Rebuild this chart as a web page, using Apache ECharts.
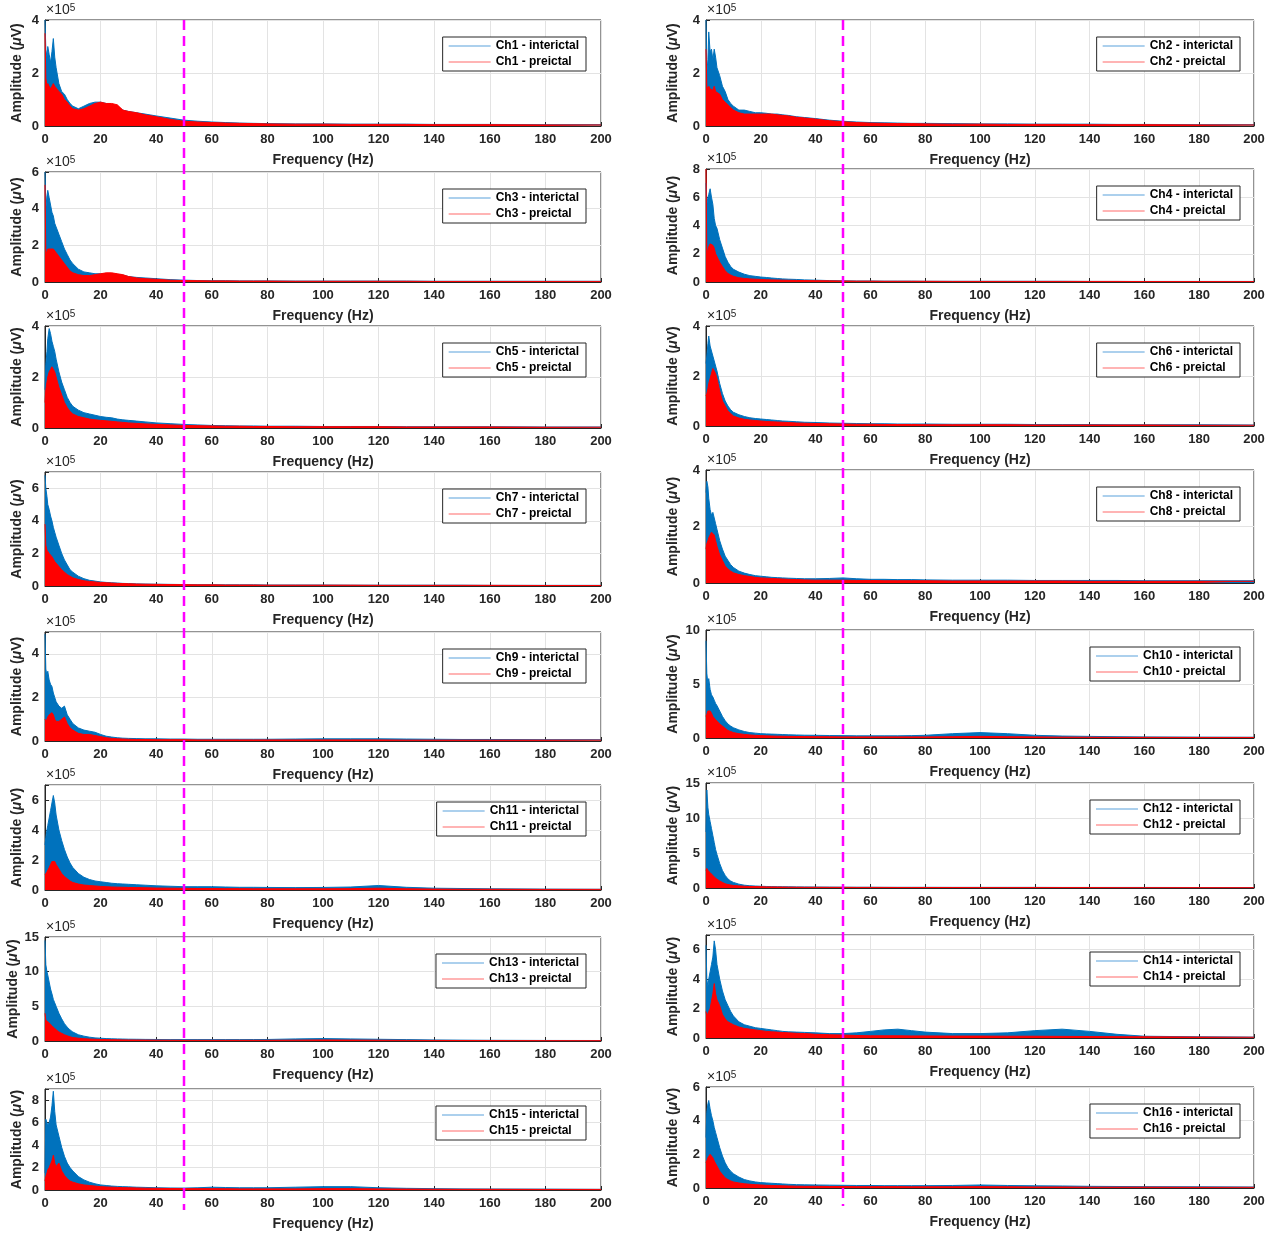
<!DOCTYPE html>
<html>
<head>
<meta charset="utf-8">
<script src="https://cdn.jsdelivr.net/npm/echarts@6/dist/echarts.min.js"></script>
<style>
html,body{margin:0;padding:0;background:#fff;}
#chart{width:1280px;height:1234px;}
</style>
</head>
<body>
<div id="chart"></div>
<script>
// Frequency sample points (Hz)
const freq = [0,0.3,0.7,1,1.5,2,2.5,3,3.5,4, 5,6,7,8,9,10, 12,14,16,18,20,22,24,26,28,30, 33,36,40,45,50, 55,60,65,70,75,80, 90,100,110,120,130,140,150,160, 180,200];
const xTicks = [0,20,40,60,80,100,120,140,160,180,200];

// Amplitudes in units of 1e5 uV
const ch1I = [4.0,2.9,2.6,3.0,2.7,2.4,2.8,3.3,2.6,2.2, 1.6,1.3,1.2,1.0,0.85,0.75, 0.65,0.75,0.85,0.9,0.9,0.85,0.8,0.75,0.6,0.55, 0.5,0.45,0.38,0.3,0.22, 0.18,0.15,0.13,0.11,0.1,0.09, 0.08,0.08,0.07,0.07,0.07,0.06,0.06,0.06, 0.05,0.05];
const ch1P = [3.5,1.8,1.5,1.6,1.5,1.4,1.5,1.6,1.5,1.5, 1.3,1.2,1.0,0.9,0.75,0.65, 0.6,0.65,0.75,0.85,0.9,0.85,0.85,0.8,0.6,0.55, 0.5,0.42,0.35,0.25,0.18, 0.15,0.13,0.11,0.1,0.09,0.08, 0.07,0.07,0.06,0.06,0.06,0.05,0.05,0.05, 0.04,0.04];
const ch2I = [4.0,2.0,2.5,3.55,2.8,2.9,2.5,2.9,2.6,2.2, 1.9,1.5,1.3,1.0,0.85,0.75, 0.6,0.6,0.55,0.5,0.5,0.48,0.45,0.45,0.42,0.4, 0.35,0.32,0.28,0.22,0.18, 0.15,0.13,0.12,0.11,0.1,0.1, 0.09,0.08,0.08,0.07,0.07,0.07,0.06,0.06, 0.05,0.05];
const ch2P = [2.9,1.5,1.4,1.5,1.4,1.4,1.35,1.5,1.3,1.3, 1.2,1.0,0.9,0.8,0.7,0.6, 0.5,0.45,0.45,0.45,0.45,0.45,0.45,0.42,0.4,0.38, 0.33,0.3,0.26,0.2,0.16, 0.13,0.11,0.1,0.09,0.09,0.08, 0.07,0.07,0.06,0.06,0.06,0.05,0.05,0.05, 0.04,0.04];
const ch3I = [6.0,4.0,4.7,5.0,4.6,4.2,3.8,3.6,3.2,3.0, 2.6,2.2,1.8,1.5,1.2,1.0, 0.7,0.55,0.5,0.45,0.45,0.45,0.45,0.42,0.38,0.3, 0.25,0.22,0.18,0.13,0.1, 0.08,0.07,0.07,0.06,0.06,0.06, 0.05,0.05,0.05,0.05,0.05,0.04,0.04,0.04, 0.04,0.04];
const ch3P = [5.3,1.5,1.6,1.8,1.9,1.8,1.7,1.8,1.7,1.6, 1.4,1.2,1.0,0.8,0.6,0.5, 0.4,0.35,0.35,0.4,0.45,0.5,0.5,0.45,0.4,0.3, 0.22,0.18,0.15,0.1,0.08, 0.07,0.06,0.06,0.05,0.05,0.05, 0.04,0.04,0.04,0.04,0.04,0.03,0.03,0.03, 0.03,0.03];
const ch4I = [7.0,5.5,6.0,6.2,6.6,6.0,5.5,4.5,4.0,3.8, 3.0,2.4,1.8,1.4,1.1,0.9, 0.7,0.55,0.45,0.4,0.35,0.32,0.28,0.25,0.22,0.2, 0.18,0.15,0.13,0.1,0.08, 0.07,0.07,0.06,0.06,0.06,0.05, 0.05,0.05,0.05,0.05,0.05,0.04,0.04,0.04, 0.04,0.04];
const ch4P = [8.0,2.0,2.1,2.5,2.7,2.8,2.6,2.4,2.0,1.8, 1.4,1.1,0.8,0.6,0.5,0.4, 0.3,0.25,0.22,0.2,0.18,0.16,0.15,0.14,0.13,0.12, 0.11,0.1,0.09,0.08,0.07, 0.06,0.06,0.05,0.05,0.05,0.05, 0.04,0.04,0.04,0.04,0.04,0.04,0.04,0.03, 0.03,0.03];
const ch5I = [1.5,2.5,3.0,3.5,3.9,3.7,3.4,3.2,3.0,2.7, 2.2,1.8,1.5,1.2,1.0,0.85, 0.7,0.6,0.55,0.5,0.45,0.42,0.4,0.35,0.32,0.3, 0.27,0.24,0.2,0.17,0.14, 0.12,0.1,0.09,0.08,0.08,0.07, 0.07,0.06,0.06,0.06,0.05,0.05,0.05,0.05, 0.04,0.04];
const ch5P = [1.0,1.5,1.8,2.0,2.2,2.3,2.4,2.4,2.2,2.0, 1.6,1.3,1.0,0.8,0.65,0.55, 0.45,0.4,0.35,0.32,0.3,0.28,0.26,0.24,0.22,0.2, 0.18,0.16,0.14,0.12,0.1, 0.09,0.08,0.07,0.07,0.06,0.06, 0.05,0.05,0.05,0.05,0.04,0.04,0.04,0.04, 0.03,0.03];
const ch6I = [2.5,2.8,3.3,3.6,3.2,3.0,2.8,2.6,2.4,2.2, 1.7,1.3,1.0,0.8,0.65,0.55, 0.45,0.38,0.33,0.3,0.28,0.26,0.24,0.22,0.2,0.19, 0.17,0.15,0.14,0.12,0.11, 0.1,0.09,0.09,0.08,0.08,0.08, 0.07,0.07,0.07,0.06,0.06,0.06,0.05,0.05, 0.05,0.04];
const ch6P = [1.2,1.3,1.5,1.7,1.9,2.1,2.3,2.3,2.1,1.9, 1.4,1.0,0.8,0.6,0.5,0.4, 0.32,0.27,0.24,0.22,0.2,0.18,0.17,0.16,0.15,0.14, 0.12,0.11,0.1,0.09,0.08, 0.07,0.07,0.06,0.06,0.06,0.05, 0.05,0.05,0.05,0.04,0.04,0.04,0.04,0.04, 0.03,0.03];
const ch7I = [6.8,6.0,5.5,5.0,4.7,4.3,4.0,3.6,3.3,3.0, 2.5,2.0,1.6,1.3,1.0,0.85, 0.6,0.45,0.35,0.3,0.25,0.22,0.2,0.18,0.16,0.15, 0.13,0.12,0.11,0.1,0.09, 0.08,0.08,0.07,0.07,0.07,0.06, 0.06,0.06,0.05,0.05,0.05,0.05,0.05,0.04, 0.04,0.04];
const ch7P = [3.8,2.5,2.2,2.1,2.0,1.9,1.8,1.7,1.5,1.4, 1.2,1.0,0.85,0.7,0.6,0.5, 0.4,0.32,0.28,0.25,0.22,0.2,0.18,0.16,0.15,0.14, 0.12,0.11,0.1,0.09,0.08, 0.07,0.07,0.06,0.06,0.06,0.05, 0.05,0.05,0.05,0.04,0.04,0.04,0.04,0.04, 0.03,0.03];
const ch8I = [3.2,3.6,3.4,3.0,2.6,2.4,2.5,2.3,2.1,1.9, 1.5,1.2,0.95,0.8,0.65,0.55, 0.42,0.35,0.3,0.26,0.24,0.22,0.2,0.19,0.18,0.17, 0.16,0.15,0.15,0.16,0.18, 0.15,0.13,0.13,0.12,0.12,0.11, 0.1,0.1,0.1,0.09,0.09,0.09,0.09,0.08, 0.08,0.08];
const ch8P = [1.2,1.4,1.5,1.6,1.7,1.8,1.8,1.7,1.5,1.3, 1.0,0.8,0.6,0.5,0.42,0.36, 0.3,0.26,0.23,0.2,0.18,0.17,0.16,0.15,0.14,0.13, 0.12,0.11,0.1,0.1,0.1, 0.09,0.09,0.08,0.08,0.08,0.08, 0.07,0.07,0.07,0.07,0.07,0.06,0.06,0.06, 0.06,0.06];
const ch9I = [4.9,3.3,3.0,3.2,2.8,2.6,2.5,2.2,2.0,1.8, 1.6,1.5,1.6,1.2,1.0,0.8, 0.6,0.5,0.45,0.4,0.3,0.22,0.18,0.15,0.13,0.12, 0.11,0.1,0.1,0.09,0.09, 0.08,0.08,0.08,0.08,0.08,0.08, 0.09,0.1,0.1,0.1,0.09,0.08,0.07,0.07, 0.06,0.06];
const ch9P = [1.0,0.9,1.0,1.1,1.2,1.2,1.3,1.2,1.0,0.9, 0.9,1.0,1.1,0.8,0.6,0.5, 0.35,0.3,0.3,0.25,0.2,0.15,0.12,0.1,0.09,0.08, 0.07,0.07,0.06,0.06,0.06, 0.05,0.05,0.05,0.05,0.05,0.05, 0.05,0.05,0.05,0.05,0.04,0.04,0.04,0.04, 0.04,0.04];
const ch10I = [9.0,6.0,5.0,5.5,4.5,4.0,3.8,3.5,3.2,3.0, 2.5,2.0,1.6,1.3,1.1,0.95, 0.75,0.6,0.5,0.45,0.4,0.38,0.36,0.34,0.32,0.3, 0.28,0.26,0.25,0.23,0.22, 0.2,0.2,0.2,0.2,0.22,0.25, 0.4,0.5,0.4,0.25,0.18,0.15,0.12,0.1, 0.08,0.07];
const ch10P = [2.0,2.2,2.5,2.6,2.5,2.3,2.0,1.9,1.7,1.6, 1.3,1.1,0.9,0.7,0.6,0.5, 0.4,0.33,0.28,0.25,0.22,0.2,0.18,0.17,0.16,0.15, 0.14,0.13,0.12,0.11,0.1, 0.1,0.1,0.1,0.1,0.1,0.1, 0.12,0.15,0.12,0.1,0.08,0.07,0.06,0.06, 0.05,0.05];
const ch11I = [3.0,3.5,4.0,4.3,4.8,5.3,5.8,6.3,5.8,5.0, 4.0,3.3,2.7,2.2,1.8,1.5, 1.1,0.85,0.7,0.6,0.55,0.5,0.45,0.42,0.4,0.38, 0.35,0.32,0.28,0.25,0.22, 0.22,0.22,0.2,0.18,0.18,0.17, 0.16,0.17,0.2,0.3,0.18,0.12,0.1,0.08, 0.06,0.05];
const ch11P = [1.0,1.1,1.2,1.3,1.5,1.7,1.9,2.0,1.9,1.7, 1.4,1.1,0.9,0.75,0.6,0.5, 0.4,0.33,0.3,0.27,0.24,0.22,0.2,0.19,0.18,0.17, 0.16,0.15,0.13,0.12,0.11, 0.1,0.1,0.09,0.09,0.08,0.08, 0.08,0.08,0.09,0.12,0.08,0.06,0.05,0.05, 0.04,0.04];
const ch12I = [8.0,14.0,11.5,10.5,9.5,8.5,7.5,6.5,5.5,4.8, 3.5,2.5,1.8,1.3,1.0,0.8, 0.55,0.4,0.32,0.28,0.25,0.22,0.2,0.19,0.18,0.17, 0.16,0.15,0.14,0.13,0.12, 0.11,0.11,0.1,0.1,0.1,0.1, 0.09,0.09,0.09,0.09,0.08,0.08,0.08,0.08, 0.07,0.07];
const ch12P = [2.5,2.8,2.5,2.4,2.2,2.0,1.8,1.6,1.4,1.2, 1.0,0.8,0.6,0.5,0.42,0.36, 0.3,0.25,0.22,0.2,0.18,0.16,0.15,0.14,0.13,0.12, 0.11,0.1,0.1,0.09,0.09, 0.08,0.08,0.08,0.07,0.07,0.07, 0.07,0.06,0.06,0.06,0.06,0.06,0.05,0.05, 0.05,0.05];
const ch13I = [14.5,11.0,10.0,9.5,8.5,7.5,6.8,6.0,5.5,5.0, 4.0,3.2,2.5,2.0,1.6,1.3, 0.9,0.7,0.55,0.45,0.4,0.35,0.32,0.3,0.28,0.26, 0.25,0.23,0.22,0.2,0.2, 0.2,0.2,0.2,0.2,0.21,0.22, 0.3,0.35,0.3,0.25,0.2,0.15,0.12,0.1, 0.08,0.07];
const ch13P = [4.0,3.0,2.8,2.8,2.6,2.4,2.2,2.0,1.8,1.6, 1.3,1.1,0.9,0.75,0.6,0.5, 0.4,0.33,0.28,0.25,0.22,0.2,0.18,0.17,0.16,0.15, 0.14,0.13,0.12,0.11,0.1, 0.1,0.1,0.1,0.1,0.1,0.1, 0.12,0.15,0.13,0.11,0.09,0.08,0.07,0.06, 0.05,0.05];
const ch14I = [6.3,4.0,3.5,4.0,4.5,5.0,5.5,6.6,6.0,5.0, 4.0,3.2,2.6,2.2,1.8,1.5, 1.1,0.9,0.8,0.7,0.65,0.6,0.55,0.5,0.45,0.42, 0.4,0.38,0.35,0.3,0.3, 0.35,0.45,0.55,0.6,0.5,0.4, 0.3,0.3,0.35,0.5,0.6,0.45,0.25,0.12, 0.08,0.06];
const ch14P = [1.8,1.5,1.4,1.6,2.0,2.5,3.0,3.7,3.0,2.6, 2.2,1.6,1.3,1.1,1.0,0.9, 0.75,0.65,0.6,0.55,0.5,0.45,0.42,0.4,0.37,0.35, 0.32,0.3,0.25,0.22,0.2, 0.17,0.15,0.15,0.15,0.14,0.14, 0.13,0.13,0.12,0.12,0.11,0.1,0.09,0.08, 0.06,0.05];
const ch15I = [1.5,6.3,6.0,5.8,6.0,6.5,7.5,8.8,7.0,5.8, 4.8,3.8,3.0,2.4,2.0,1.7, 1.2,0.9,0.7,0.55,0.45,0.4,0.35,0.32,0.3,0.28, 0.25,0.23,0.2,0.18,0.17, 0.2,0.25,0.22,0.2,0.2,0.2, 0.25,0.3,0.3,0.2,0.15,0.12,0.1,0.09, 0.08,0.06];
const ch15P = [0.8,1.2,1.5,1.8,2.0,2.3,2.6,3.1,2.4,2.1, 2.4,1.7,1.3,1.0,0.8,0.7, 0.55,0.45,0.4,0.35,0.3,0.27,0.25,0.23,0.21,0.2, 0.18,0.16,0.15,0.13,0.12, 0.12,0.12,0.11,0.1,0.1,0.1, 0.1,0.12,0.12,0.1,0.08,0.07,0.06,0.06, 0.05,0.05];
const ch16I = [3.0,4.5,5.0,5.2,4.7,4.3,4.0,3.6,3.3,3.0, 2.4,1.9,1.5,1.2,1.0,0.85, 0.65,0.5,0.42,0.36,0.32,0.3,0.28,0.26,0.24,0.22, 0.2,0.19,0.18,0.17,0.16, 0.15,0.15,0.14,0.14,0.14,0.14, 0.15,0.18,0.15,0.13,0.12,0.1,0.09,0.08, 0.07,0.06];
const ch16P = [1.5,1.6,1.8,1.9,2.0,1.9,1.8,1.6,1.5,1.3, 1.0,0.8,0.6,0.5,0.42,0.36, 0.3,0.25,0.22,0.2,0.18,0.16,0.15,0.14,0.13,0.12, 0.11,0.1,0.1,0.09,0.09, 0.08,0.08,0.08,0.08,0.07,0.07, 0.07,0.08,0.07,0.06,0.06,0.05,0.05,0.05, 0.04,0.04];

const channelNames = ['Ch1','Ch2','Ch3','Ch4','Ch5','Ch6','Ch7','Ch8','Ch9','Ch10','Ch11','Ch12','Ch13','Ch14','Ch15','Ch16'];
const interictal = [ch1I,ch2I,ch3I,ch4I,ch5I,ch6I,ch7I,ch8I,ch9I,ch10I,ch11I,ch12I,ch13I,ch14I,ch15I,ch16I];
const preictal = [ch1P,ch2P,ch3P,ch4P,ch5P,ch6P,ch7P,ch8P,ch9P,ch10P,ch11P,ch12P,ch13P,ch14P,ch15P,ch16P];
const yMax = [4,4,6,8,4,4,7,4,5,10,7,15,15,7,9,6];
const yStep = [2,2,2,2,2,2,2,2,2,5,2,5,5,2,2,2];
const markFreq = 50;

// layout (pixels)
const colLeft = [45, 706];
const colRight = [679, 26];
const rowTops = [[20,172,326,472,632,785,937,1089],[20,169,326,470,630,783,935,1087]];
const rowHeights = [[106,110,102,114,109,105,104,101],[106,113,100,113,108,105,103,101]];

const FONT = '"Liberation Sans", Arial, Helvetica, sans-serif';
const TXT = '#262626';
const BLUE = '#0072BD';
const RED = '#FF0000';

const chart = echarts.init(document.getElementById('chart'), null, {renderer:'canvas'});

const grids = [], xAxes = [], yAxes = [], series = [], legends = [], titles = [];
for (let i = 0; i < 16; i++) {
  const col = i % 2, row = Math.floor(i / 2);
  const top = rowTops[col][row], h = rowHeights[col][row];
  grids.push({left: colLeft[col], right: colRight[col], top: top, height: h,
    show: true, borderColor: TXT, borderWidth: 1, backgroundColor: '#fff', containLabel: false});
  xAxes.push({type:'value', gridIndex:i, min:0, max:200, interval:20,
    axisLine:{show:true, lineStyle:{color:TXT, width:1}},
    axisTick:{show:true, inside:true, length:4, lineStyle:{color:TXT}},
    splitLine:{show:true, lineStyle:{color:'#e3e3e3', width:1}},
    axisLabel:{fontFamily:FONT, fontWeight:'bold', fontSize:13, color:TXT, margin:7,
      formatter: v => xTicks.indexOf(v) >= 0 ? String(v) : ''},
    name:'Frequency (Hz)', nameLocation:'middle', nameGap:27,
    nameTextStyle:{fontFamily:FONT, fontWeight:'bold', fontSize:14, color:TXT}
  });
  const step = yStep[i];
  yAxes.push({type:'value', gridIndex:i, min:0, max:yMax[i], interval:step,
    axisLine:{show:true, lineStyle:{color:TXT, width:1}},
    axisTick:{show:true, inside:true, length:4, lineStyle:{color:TXT}},
    splitLine:{show:true, lineStyle:{color:'#e3e3e3', width:1}},
    axisLabel:{fontFamily:FONT, fontWeight:'bold', fontSize:13, color:TXT, margin:6,
      formatter: v => (Math.abs(v % step) < 1e-9) ? String(v) : ''},
    name:'{n|Amplitude (}{i|\u03bc}{n|V)}', nameLocation:'middle', nameGap:col === 0 ? 21 : 26, nameRotate:90,
    nameTextStyle:{rich:{
      n:{fontFamily:FONT, fontWeight:'bold', fontSize:14, color:TXT},
      i:{fontFamily:FONT, fontWeight:'bold', fontStyle:'italic', fontSize:14, color:TXT}
    }}
  });
  const nI = channelNames[i] + ' - interictal';
  const nP = channelNames[i] + ' - preictal';
  series.push({name:nI, type:'line', xAxisIndex:i, yAxisIndex:i, showSymbol:false, symbol:'none',
    color:BLUE, lineStyle:{color:BLUE, width:1}, areaStyle:{color:BLUE, opacity:1},
    data: freq.map((f,k) => [f, interictal[i][k]]), animation:false, z:2});
  series.push({name:nP, type:'line', xAxisIndex:i, yAxisIndex:i, showSymbol:false, symbol:'none',
    color:RED, lineStyle:{color:RED, width:1}, areaStyle:{color:RED, opacity:1},
    data: freq.map((f,k) => [f, preictal[i][k]]), animation:false, z:3});
  legends.push({
    data:[{name:nI, itemStyle:{color:'#5aa2dc'}}, {name:nP, itemStyle:{color:'#ff6a6a'}}],
    orient:'vertical', right: col === 0 ? 694 : 40, top: top + 17,
    icon:'rect', itemWidth:42, itemHeight:1.2, itemGap:4,
    padding:[3,7,3,6], backgroundColor:'#fff', borderColor:TXT, borderWidth:1,
    selectedMode:false,
    textStyle:{fontFamily:FONT, fontWeight:'bold', fontSize:12, color:'#000'}
  });
  titles.push({
    text:'\u00d710{s|5}', left: colLeft[col] + 1, top: top - 17,
    textStyle:{fontFamily:FONT, fontSize:14, fontWeight:'normal', color:TXT,
      rich:{s:{fontFamily:FONT, fontSize:10, color:TXT, verticalAlign:'top', lineHeight:10, padding:[0,0,7,0]}}},
    padding:0
  });
}

chart.setOption({
  backgroundColor:'#fff',
  animation:false,
  title: titles,
  grid: grids, xAxis: xAxes, yAxis: yAxes, series: series, legend: legends
});

// magenta dashed marker at 50 Hz spanning each column
const xL = chart.convertToPixel({xAxisIndex:0}, markFreq);
const xR = chart.convertToPixel({xAxisIndex:1}, markFreq);
chart.setOption({
  graphic: [
    {type:'line', z:100, shape:{x1:xL, y1:rowTops[0][0], x2:xL, y2:1210},
      style:{stroke:'#FF00FF', lineWidth:2.5, lineDash:[10,6]}},
    {type:'line', z:100, shape:{x1:xR, y1:rowTops[1][0], x2:xR, y2:1206},
      style:{stroke:'#FF00FF', lineWidth:2.5, lineDash:[10,6]}}
  ]
});
</script>
</body>
</html>
